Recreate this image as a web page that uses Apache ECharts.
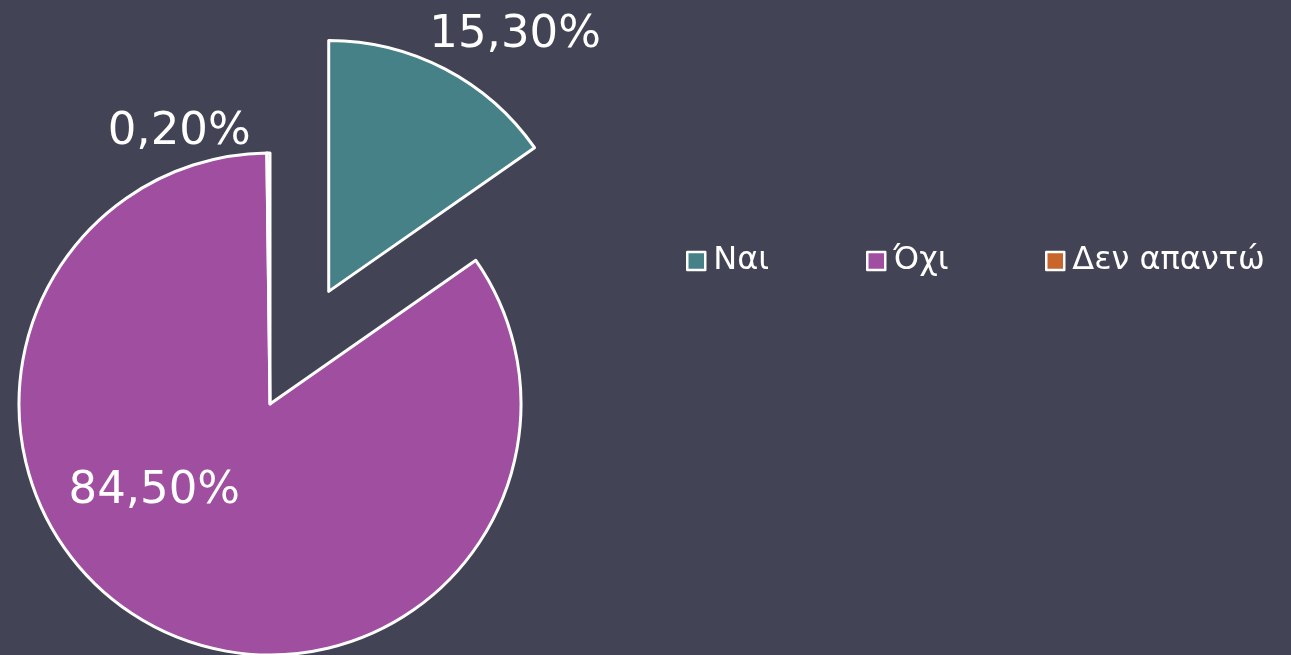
<!DOCTYPE html>
<html>
<head>
<meta charset="utf-8">
<script src="https://cdn.jsdelivr.net/npm/echarts@6/dist/echarts.min.js"></script>
<style>
  html, body { margin: 0; padding: 0; background: #434356; }
  #chart { width: 1291px; height: 655px; }
</style>
</head>
<body>
<div id="chart"></div>
<script>
// answers and their shares (percent)
var categories = ['Ναι', 'Όχι', 'Δεν απαντώ']
var values = [15.3, 84.5, 0.2]
var colors = ['#468187', '#a04ea0', '#c8652a']

// shift of each percentage label away from its slice centre (text only)
var labelOffset = [[127, -142], [-57, -27], [-90, -143]]
// left edge of each legend entry
var legendLeft = [686, 866, 1045]

var myChart = echarts.init(document.getElementById('chart'))

var pieData = []
for (var i = 0; i < categories.length; i++) {
  pieData.push({
    name: categories[i],
    value: values[i],
    selected: i === 0,
    itemStyle: { color: colors[i] },
    label: { offset: labelOffset[i] },
    select: { label: { offset: labelOffset[i] } }
  })
}

var legends = []
for (var k = 0; k < categories.length; k++) {
  legends.push({
    left: legendLeft[k],
    top: 245,
    padding: 0,
    itemWidth: 18,
    itemHeight: 18,
    itemGap: 0,
    icon: 'rect',
    selectedMode: false,
    itemStyle: { borderColor: '#ffffff', borderWidth: 2.5 },
    textStyle: {
      color: '#ffffff',
      fontSize: 32,
      fontFamily: 'DejaVu Sans',
      padding: [0, 0, 0, 3]
    },
    data: [categories[k]]
  })
}

var option = {
  backgroundColor: '#434356',
  legend: legends,
  series: [
    {
      type: 'pie',
      center: [270, 404],
      radius: 251,
      startAngle: 90,
      clockwise: true,
      selectedMode: 'single',
      selectedOffset: 127,
      avoidLabelOverlap: false,
      animation: false,
      itemStyle: { borderColor: '#ffffff', borderWidth: 3 },
      select: { itemStyle: { borderColor: '#ffffff', borderWidth: 3 } },
      emphasis: { disabled: true },
      label: {
        show: true,
        position: 'inside',
        color: '#ffffff',
        fontSize: 45,
        fontFamily: 'DejaVu Sans',
        formatter: function(p) {
          return p.value.toFixed(2).replace('.', ',') + '%'
        }
      },
      labelLine: { show: false },
      data: pieData
    }
  ]
}

option && myChart.setOption(option)
</script>
</body>
</html>
